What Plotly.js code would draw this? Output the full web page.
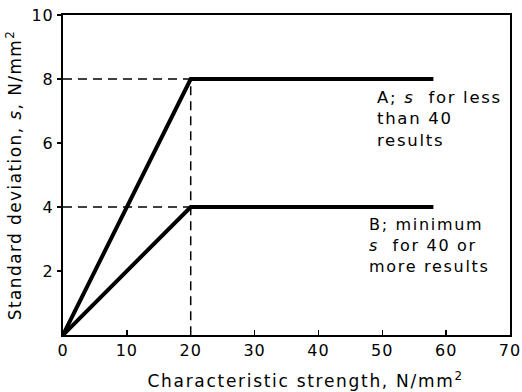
<!DOCTYPE html>
<html>
<head>
<meta charset="utf-8">
<script src="https://cdn.plot.ly/plotly-3.0.1.min.js"></script>
<style>
html,body{margin:0;padding:0;background:#fff;}
#chart{width:522px;height:392px;}
#chart svg text{letter-spacing:1px;}
#chart svg .ytitle{letter-spacing:1.4px;}
#chart svg .annotation-text{letter-spacing:1.7px;}
</style>
</head>
<body>
<div id="chart"></div>
<script>
// Data
const strengthA = [0, 20, 58];
const sdA = [0, 8, 8];
const strengthB = [0, 20, 58];
const sdB = [0, 4, 4];
const guideA_x = [0, 20, 20];
const guideA_y = [8, 8, 0];
const guideB_x = [0, 20];
const guideB_y = [4, 4];
const xTicks = [0, 10, 20, 30, 40, 50, 60, 70];
const yTicks = [2, 4, 6, 8, 10];
const xTitle = "Characteristic strength, N/mm<sup>2</sup>";
const yTitle = "Standard deviation, <i>s</i>, N/mm<sup>2</sup>";
const labelA = "A; <i>s</i>  for less<br>than 40<br>results";
const labelB = "B; minimum<br><i>s</i>  for 40 or<br>more results";

const font = "DejaVu Sans, sans-serif";
const traces = [
  {x: guideA_x, y: guideA_y, mode: "lines", line: {color: "#000", width: 1.5, dash: "9px,6px"}, hoverinfo: "skip"},
  {x: guideB_x, y: guideB_y, mode: "lines", line: {color: "#000", width: 1.5, dash: "9px,6px"}, hoverinfo: "skip"},
  {x: strengthA, y: sdA, mode: "lines", line: {color: "#000", width: 4}},
  {x: strengthB, y: sdB, mode: "lines", line: {color: "#000", width: 4}}
];
const layout = {
  width: 522, height: 392,
  margin: {l: 63, r: 12, t: 15, b: 57},
  paper_bgcolor: "#fff", plot_bgcolor: "#fff",
  showlegend: false,
  font: {family: font, color: "#000", size: 16},
  xaxis: {
    range: [0, 70], tickvals: xTicks, ticktext: xTicks.map(String),
    ticks: "inside", ticklen: 5, tickwidth: 1.5, tickcolor: "#000",
    showline: true, linewidth: 2, linecolor: "#000", mirror: true,
    showgrid: false, zeroline: false,
    tickfont: {size: 16, family: font}
  },
  yaxis: {
    range: [0, 10], tickvals: yTicks, ticktext: yTicks.map(String),
    ticks: "outside", ticklen: 4, tickwidth: 1.5, tickcolor: "#000",
    showline: true, linewidth: 2, linecolor: "#000", mirror: true,
    showgrid: false, zeroline: false,
    tickfont: {size: 16, family: font},
    title: {text: yTitle, font: {size: 17, family: font}, standoff: 7}
  },
  annotations: [
    {x: 0.542, y: 0, xref: "paper", yref: "paper", text: xTitle, showarrow: false, xanchor: "center", yanchor: "top", yshift: -32, font: {size: 17, family: font}},
    {x: 48.8, y: 8.0, xref: "x", yref: "y", text: labelA, showarrow: false, xanchor: "left", yanchor: "top", align: "left", yshift: -7, font: {size: 16.5, family: font}},
    {x: 47.6, y: 4.0, xref: "x", yref: "y", text: labelB, showarrow: false, xanchor: "left", yanchor: "top", align: "left", yshift: -6, font: {size: 16, family: font}}
  ]
};
Plotly.newPlot("chart", traces, layout, {staticPlot: true});
</script>
</body>
</html>
